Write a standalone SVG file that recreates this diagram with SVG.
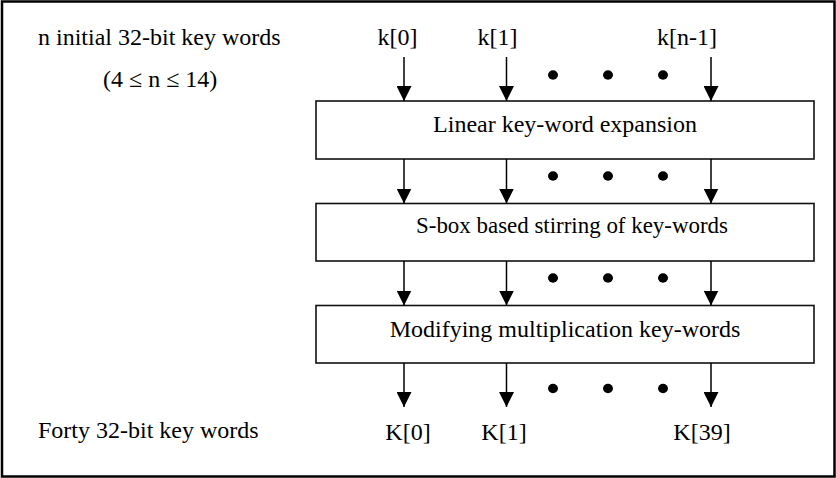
<svg xmlns="http://www.w3.org/2000/svg" width="836" height="478" viewBox="0 0 836 478">
  <defs>
    <marker id="arrow" markerUnits="userSpaceOnUse" viewBox="0 0 15 15" refX="15" refY="7.5" markerWidth="15" markerHeight="15" orient="auto">
      <path d="M0,0 L15,7.5 L0,15 Z" fill="#000"/>
    </marker>
    <style>
      .t { font-family: "Liberation Serif", "Times New Roman", serif; font-size: 24px; fill: #000; }
      .box { fill: #fff; stroke: #111; stroke-width: 1.6; }
      .conn { stroke: #000; stroke-width: 1.5; fill: none; marker-end: url(#arrow); }
      .dot { fill: #000; }
    </style>
  </defs>
  <rect width="836" height="478" fill="#fff"/>
  <rect id="frame" x="2" y="1.5" width="832.5" height="475" fill="none" stroke="#000" stroke-width="2.5"/>

  <g id="label-inputs">
    <text class="t" x="38" y="45">n initial 32-bit key words</text>
    <text class="t" x="103" y="87">(4 ≤ n ≤ 14)</text>
  </g>
  <g id="label-outputs">
    <text class="t" x="38" y="438">Forty 32-bit key words</text>
  </g>

  <g id="in-k0"><text class="t" x="397.5" y="45" text-anchor="middle">k[0]</text></g>
  <g id="in-k1"><text class="t" x="497.5" y="45" text-anchor="middle">k[1]</text></g>
  <g id="in-kn1"><text class="t" x="687" y="45" text-anchor="middle">k[n-1]</text></g>

  <g id="node-linear">
    <rect class="box" x="316" y="101" width="498" height="58"/>
    <text class="t" x="565" y="132" text-anchor="middle">Linear key-word expansion</text>
  </g>
  <g id="node-sbox">
    <rect class="box" x="316" y="203.5" width="498" height="57.5"/>
    <text class="t" x="572" y="233" text-anchor="middle" textLength="312" lengthAdjust="spacingAndGlyphs">S-box based stirring of key-words</text>
  </g>
  <g id="node-mult">
    <rect class="box" x="316" y="305.5" width="498" height="57.5"/>
    <text class="t" x="565" y="337" text-anchor="middle">Modifying multiplication key-words</text>
  </g>

  <g id="out-K0"><text class="t" x="408" y="440" text-anchor="middle">K[0]</text></g>
  <g id="out-K1"><text class="t" x="504" y="440" text-anchor="middle">K[1]</text></g>
  <g id="out-K39"><text class="t" x="702" y="440" text-anchor="middle">K[39]</text></g>

  <g id="connectors">
    <line class="conn" x1="404" y1="57" x2="404" y2="101"/>
    <line class="conn" x1="506.5" y1="57" x2="506.5" y2="101"/>
    <line class="conn" x1="711" y1="57" x2="711" y2="101"/>

    <line class="conn" x1="404" y1="159" x2="404" y2="203.5"/>
    <line class="conn" x1="506.5" y1="159" x2="506.5" y2="203.5"/>
    <line class="conn" x1="711" y1="159" x2="711" y2="203.5"/>

    <line class="conn" x1="404" y1="261" x2="404" y2="305.5"/>
    <line class="conn" x1="506.5" y1="261" x2="506.5" y2="305.5"/>
    <line class="conn" x1="711" y1="261" x2="711" y2="305.5"/>

    <line class="conn" x1="404" y1="363" x2="404" y2="407"/>
    <line class="conn" x1="506.5" y1="363" x2="506.5" y2="407"/>
    <line class="conn" x1="711" y1="363" x2="711" y2="407"/>
  </g>

  <g id="ellipses">
    <ellipse class="dot" cx="553" cy="75" rx="5" ry="4.7"/>
    <ellipse class="dot" cx="608" cy="75" rx="5" ry="4.7"/>
    <ellipse class="dot" cx="663" cy="75" rx="5" ry="4.7"/>
    <ellipse class="dot" cx="553" cy="176" rx="5" ry="4.7"/>
    <ellipse class="dot" cx="608" cy="176" rx="5" ry="4.7"/>
    <ellipse class="dot" cx="663" cy="176" rx="5" ry="4.7"/>
    <ellipse class="dot" cx="553" cy="278" rx="5" ry="4.7"/>
    <ellipse class="dot" cx="608" cy="278" rx="5" ry="4.7"/>
    <ellipse class="dot" cx="663" cy="278" rx="5" ry="4.7"/>
    <ellipse class="dot" cx="553" cy="388.5" rx="5" ry="4.7"/>
    <ellipse class="dot" cx="608" cy="388.5" rx="5" ry="4.7"/>
    <ellipse class="dot" cx="663" cy="388.5" rx="5" ry="4.7"/>
  </g>
</svg>
